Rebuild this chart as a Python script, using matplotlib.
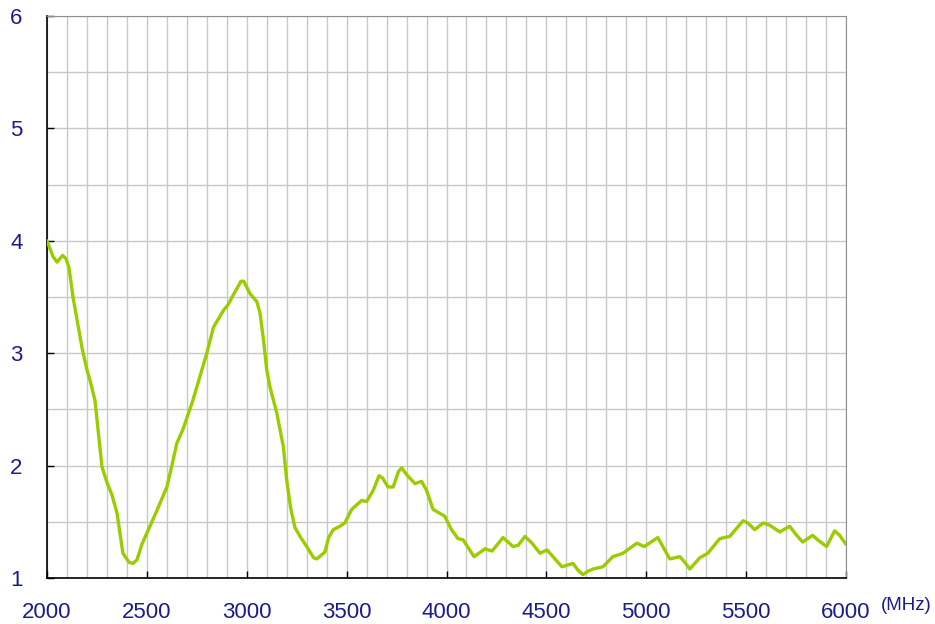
import matplotlib
matplotlib.use('Agg')
import matplotlib.pyplot as plt
import numpy as np

plt.rcParams['font.family'] = ['Liberation Sans', 'Noto Sans CJK JP', 'DejaVu Sans']

# frequency (MHz) and value
freq = [2000, 2030, 2050, 2078, 2095, 2110, 2130, 2175, 2200, 2215, 2240, 2275,
        2300, 2325, 2350, 2380, 2410, 2430, 2450, 2475, 2500, 2550, 2600, 2625,
        2650, 2680, 2730, 2750, 2800, 2833, 2883, 2906, 2933, 2971, 2985, 3016,
        3050, 3066, 3085, 3100, 3116, 3150, 3183, 3200, 3220, 3241, 3270, 3300,
        3335, 3350, 3391, 3410, 3433, 3466, 3491, 3525, 3575, 3600, 3633, 3662,
        3680, 3707, 3733, 3760, 3776, 3800, 3842, 3875, 3900, 3933, 3991, 4025,
        4058, 4083, 4116, 4138, 4193, 4228, 4283, 4333, 4358, 4393, 4428, 4468,
        4503, 4528, 4578, 4633, 4658, 4683, 4708, 4733, 4783, 4833, 4883, 4953,
        4990, 5058, 5083, 5118, 5168, 5193, 5218, 5268, 5308, 5368, 5418, 5485,
        5508, 5543, 5585, 5618, 5668, 5718, 5753, 5783, 5833, 5858, 5903, 5943,
        5968, 6000]
vals = [4.00, 3.86, 3.81, 3.87, 3.84, 3.76, 3.50, 3.05, 2.85, 2.76, 2.58, 1.99,
        1.85, 1.74, 1.58, 1.22, 1.14, 1.13, 1.16, 1.30, 1.40, 1.60, 1.81, 2.00,
        2.20, 2.32, 2.58, 2.70, 3.00, 3.23, 3.38, 3.43, 3.52, 3.64, 3.64, 3.53,
        3.46, 3.36, 3.10, 2.85, 2.70, 2.47, 2.17, 1.87, 1.62, 1.45, 1.36, 1.28,
        1.18, 1.17, 1.23, 1.36, 1.43, 1.46, 1.49, 1.61, 1.69, 1.68, 1.78, 1.91,
        1.89, 1.81, 1.81, 1.95, 1.98, 1.92, 1.84, 1.86, 1.78, 1.61, 1.55, 1.43,
        1.35, 1.34, 1.25, 1.19, 1.26, 1.24, 1.36, 1.28, 1.29, 1.37, 1.31, 1.22,
        1.25, 1.20, 1.10, 1.13, 1.07, 1.03, 1.06, 1.08, 1.10, 1.19, 1.22, 1.31,
        1.28, 1.36, 1.28, 1.17, 1.19, 1.14, 1.08, 1.18, 1.22, 1.35, 1.37, 1.51,
        1.49, 1.43, 1.49, 1.47, 1.41, 1.46, 1.38, 1.32, 1.38, 1.34, 1.28, 1.42,
        1.38, 1.30]

xticks = [2000, 2500, 3000, 3500, 4000, 4500, 5000, 5500, 6000]
yticks = [1, 2, 3, 4, 5, 6]
label_color = '#1c1c8c'

fig = plt.figure(figsize=(9.35, 6.24), dpi=100)
ax = fig.add_axes([0.0503, 0.0737, 0.8545, 0.9007])

ax.plot(freq, vals, color='#9acc00', lw=2.4, solid_joinstyle='round',
        solid_capstyle='round', zorder=3)

ax.set_xlim(2000, 6000)
ax.set_ylim(1, 6)
ax.set_xticks(xticks)
ax.set_yticks(yticks)
ax.set_xticks(np.arange(2000, 6001, 100), minor=True)
ax.set_yticks(np.arange(1, 6.01, 0.5), minor=True)

ax.grid(True, which='both', color='#c8c8c8', lw=1.0, zorder=0)
ax.set_axisbelow(True)

ax.tick_params(which='major', direction='in', length=5, width=1, color='black',
               labelsize=16, labelcolor=label_color)
ax.tick_params(axis='x', which='major', pad=17)
ax.tick_params(axis='y', which='major', pad=22)
ax.tick_params(which='minor', length=0)
for lbl in ax.get_yticklabels():
    lbl.set_horizontalalignment('center')

ax.spines['left'].set_color('black')
ax.spines['bottom'].set_color('black')
ax.spines['left'].set_linewidth(1.2)
ax.spines['bottom'].set_linewidth(1.2)
ax.spines['top'].set_color('#909090')
ax.spines['right'].set_color('#909090')

fig.text(0.996, 0.022, '(MHz)', color=label_color, fontsize=13.5, ha='right', va='baseline')

fig.savefig('out.png', dpi=100)
